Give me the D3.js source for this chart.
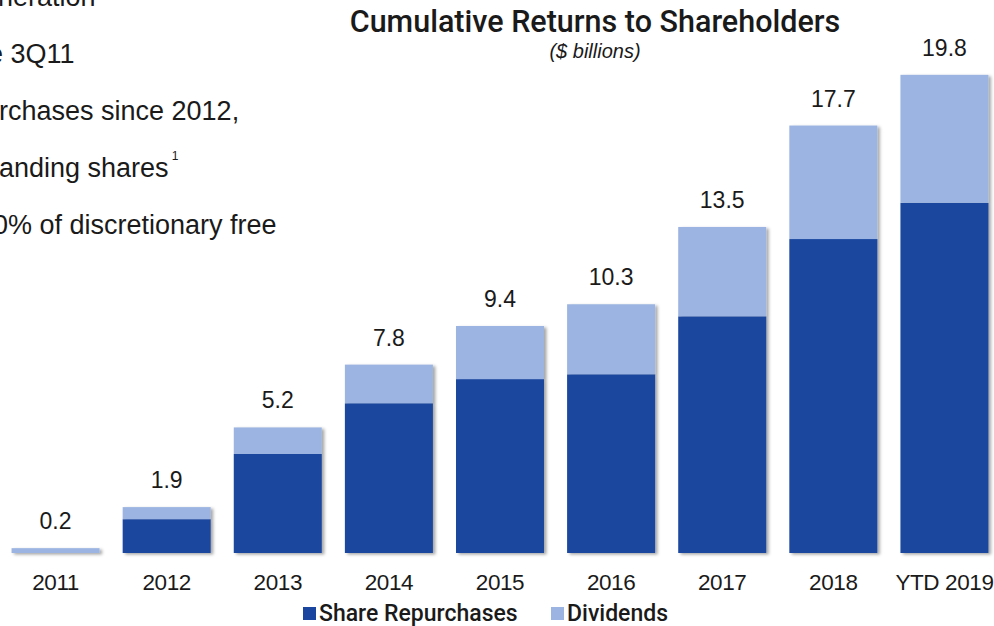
<!DOCTYPE html>
<html>
<head>
<meta charset="utf-8">
<script src="https://cdn.jsdelivr.net/npm/d3@7/dist/d3.min.js"></script>
<style>
  html, body { margin: 0; padding: 0; background: #ffffff; }
  svg { display: block; }
  text { font-family: "Liberation Sans", Arial, sans-serif; fill: #1a1a1a; }
</style>
</head>
<body>
<svg id="chart" width="994" height="626"></svg>
<script>
// Cumulative returns to shareholders, $ billions
const categories = ["2011", "2012", "2013", "2014", "2015", "2016", "2017", "2018", "YTD 2019"];
const repurchases = [0, 1.4, 4.1, 6.2, 7.2, 7.4, 9.8, 13.0, 14.5];
const dividends = [0.2, 0.5, 1.1, 1.6, 2.2, 2.9, 3.7, 4.7, 5.3];
const seriesNames = ["Share Repurchases", "Dividends"];
const seriesColors = ["#1a469f", "#9bb4e1"];

// Bullet text running in from the left side of the slide
const noteLines = ["neration", "e 3Q11", "rchases since 2012,", "anding shares", "0% of discretionary free"];
const noteOffsets = [-2, -12, -1, -1, -7];

const svg = d3.select("#chart");

const baseline = 553;
const x = d3.scaleBand()
  .domain(categories)
  .range([0, 1000])
  .paddingInner(0.208)
  .paddingOuter(0.104);

const y = d3.scaleLinear()
  .domain([0, 20])
  .range([baseline, baseline - 20 * 24.15]);

// Soft shadow under the bars
const defs = svg.append("defs");
const shadow = defs.append("filter").attr("id", "barShadow")
  .attr("x", "-10%").attr("y", "-10%").attr("width", "130%").attr("height", "130%");
shadow.append("feDropShadow")
  .attr("dx", 2.5).attr("dy", 1.5).attr("stdDeviation", 1.6)
  .attr("flood-color", "#000").attr("flood-opacity", 0.35);

// Left-hand bullet text
const notes = svg.append("g");
notes.selectAll("text")
  .data(noteLines)
  .join("text")
  .attr("x", (d, i) => noteOffsets[i])
  .attr("y", (d, i) => 6 + i * 57)
  .attr("font-size", 27)
  .attr("fill", "#222")
  .text(d => d);
// footnote marker after "shares"
const sharesLine = notes.selectAll("text").filter((d, i) => i === 3);
const sharesWidth = sharesLine.node().getComputedTextLength();
notes.append("text")
  .attr("x", noteOffsets[3] + sharesWidth + 3)
  .attr("y", 160)
  .attr("font-size", 12)
  .text("1");

// Stacked bars
const stackData = categories.map((c, i) => ({ cat: c, rep: repurchases[i], div: dividends[i] }));
const stack = d3.stack().keys(["rep", "div"]);
const layers = stack(stackData);

const barsG = svg.append("g").attr("filter", "url(#barShadow)");
barsG.selectAll("g.layer")
  .data(layers)
  .join("g")
  .attr("class", "layer")
  .attr("fill", (d, i) => seriesColors[i])
  .selectAll("rect")
  .data(d => d)
  .join("rect")
  .attr("x", d => x(d.data.cat))
  .attr("width", x.bandwidth())
  .attr("y", d => y(d[1]))
  .attr("height", d => y(d[0]) - y(d[1]));

// Total labels above each bar
svg.append("g").selectAll("text")
  .data(stackData)
  .join("text")
  .attr("x", d => x(d.cat) + x.bandwidth() / 2)
  .attr("y", d => y(d.rep + d.div) - 19)
  .attr("text-anchor", "middle")
  .attr("font-size", 23)
  .text(d => d3.format(".1f")(d.rep + d.div));

// Category axis (labels only)
const xAxis = svg.append("g")
  .attr("transform", `translate(0,${baseline})`)
  .call(d3.axisBottom(x).tickSize(0).tickPadding(21));
xAxis.select(".domain").remove();
xAxis.selectAll("text")
  .attr("font-size", 22.5)
  .attr("fill", "#2a2a2a")
  .style("letter-spacing", "-0.4px")
  .style("font-family", "'Liberation Sans', Arial, sans-serif");

// Title and unit note
svg.append("text")
  .attr("x", 595).attr("y", 32)
  .attr("text-anchor", "middle")
  .attr("font-size", 30.5)
  .attr("font-weight", 500)
  .style("font-family", "Roboto, 'Liberation Sans', sans-serif")
  .text("Cumulative Returns to Shareholders");
svg.append("text")
  .attr("x", 595).attr("y", 58)
  .attr("text-anchor", "middle")
  .attr("font-size", 20)
  .attr("font-style", "italic")
  .attr("fill", "#444")
  .text("($ billions)");

// Legend
const legendX = [303, 551];
const legend = svg.append("g");
seriesNames.forEach((name, i) => {
  legend.append("rect")
    .attr("x", legendX[i]).attr("y", 607)
    .attr("width", 13).attr("height", 13)
    .attr("fill", seriesColors[i]);
  legend.append("text")
    .attr("x", legendX[i] + 16).attr("y", 621)
    .attr("font-size", 23)
    .attr("font-weight", 500)
    .style("font-family", "Roboto, 'Liberation Sans', sans-serif")
    .text(name);
});
</script>
</body>
</html>
